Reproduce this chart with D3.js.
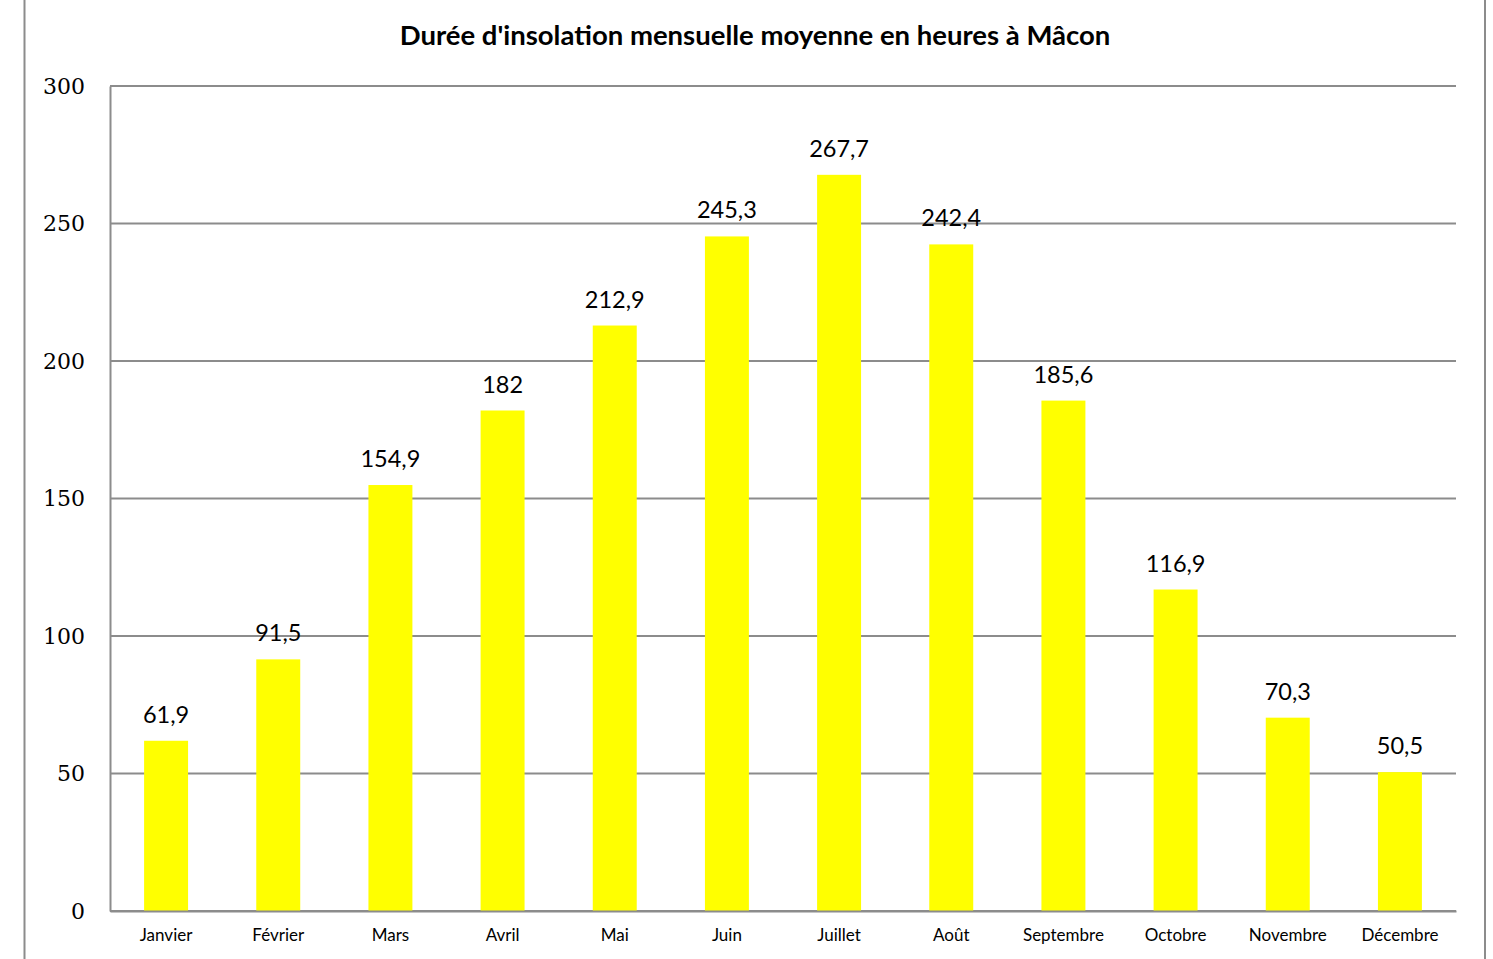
<!DOCTYPE html>
<html>
<head>
<meta charset="utf-8">
<script src="https://cdn.jsdelivr.net/npm/d3@7"></script>
<style>
  body { margin: 0; background: #fff; }
  svg { display: block; }
</style>
</head>
<body>
<div id="chart"></div>
<script>
// data
const months = ["Janvier", "Février", "Mars", "Avril", "Mai", "Juin", "Juillet", "Août", "Septembre", "Octobre", "Novembre", "Décembre"];
const hours = [61.9, 91.5, 154.9, 182, 212.9, 245.3, 267.7, 242.4, 185.6, 116.9, 70.3, 50.5];
const yTicks = [0, 50, 100, 150, 200, 250, 300];
const chartTitle = "Durée d'insolation mensuelle moyenne en heures à Mâcon";

const width = 1493, height = 959;
const margin = {top: 86, right: 37, bottom: 48, left: 110};

const svg = d3.select("#chart").append("svg")
    .attr("width", width)
    .attr("height", height);

// outer frame (only left/right edges visible)
svg.append("line").attr("x1", 24.5).attr("x2", 24.5).attr("y1", 0).attr("y2", height)
    .attr("stroke", "#8c8c8c").attr("stroke-width", 2);
svg.append("line").attr("x1", 1485).attr("x2", 1485).attr("y1", 0).attr("y2", height)
    .attr("stroke", "#8c8c8c").attr("stroke-width", 2);

const x = d3.scaleBand().domain(months)
    .range([margin.left, width - margin.right])
    .paddingInner(0.608).paddingOuter(0.304);
const y = d3.scaleLinear().domain([0, 300]).range([height - margin.bottom, margin.top]);

// gridlines
svg.append("g").selectAll("line")
    .data(yTicks)
    .join("line")
    .attr("x1", margin.left).attr("x2", width - margin.right)
    .attr("y1", d => y(d)).attr("y2", d => y(d))
    .attr("stroke", "#8c8c8c").attr("stroke-width", 2);

// y axis
const yAxis = svg.append("g")
    .attr("transform", "translate(" + margin.left + ",0)")
    .call(d3.axisLeft(y).tickValues(yTicks).tickSize(0).tickPadding(25));
yAxis.select(".domain").attr("stroke", "#8c8c8c").attr("stroke-width", 2);
yAxis.selectAll("text")
    .attr("font-family", "'DejaVu Serif', serif")
    .attr("font-size", 22)
    .attr("fill", "#000");

// bars
svg.append("g").selectAll("rect")
    .data(hours)
    .join("rect")
    .attr("x", (d, i) => x(months[i]))
    .attr("y", d => y(d))
    .attr("width", x.bandwidth())
    .attr("height", d => y(0) - y(d))
    .attr("fill", "#ffff00");

// x axis
const xAxis = svg.append("g")
    .attr("transform", "translate(0," + y(0) + ")")
    .call(d3.axisBottom(x).tickSize(0).tickPadding(18));
xAxis.select(".domain").attr("stroke", "#8c8c8c").attr("stroke-width", 2);
xAxis.selectAll("text")
    .attr("font-family", "Lato, sans-serif")
    .attr("font-size", 17)
    .attr("fill", "#000");

// value labels
svg.append("g").selectAll("text")
    .data(hours)
    .join("text")
    .attr("x", (d, i) => x(months[i]) + x.bandwidth() / 2)
    .attr("y", d => y(d) - 18)
    .attr("text-anchor", "middle")
    .attr("font-family", "Lato, sans-serif")
    .attr("font-size", 23.5)
    .attr("fill", "#000")
    .text(d => String(d).replace(".", ","));

// title
svg.append("text")
    .attr("x", 755)
    .attr("y", 45)
    .attr("text-anchor", "middle")
    .attr("font-family", "Lato, sans-serif")
    .attr("font-weight", "bold")
    .attr("font-size", 27.5)
    .attr("fill", "#000")
    .text(chartTitle);
</script>
</body>
</html>
